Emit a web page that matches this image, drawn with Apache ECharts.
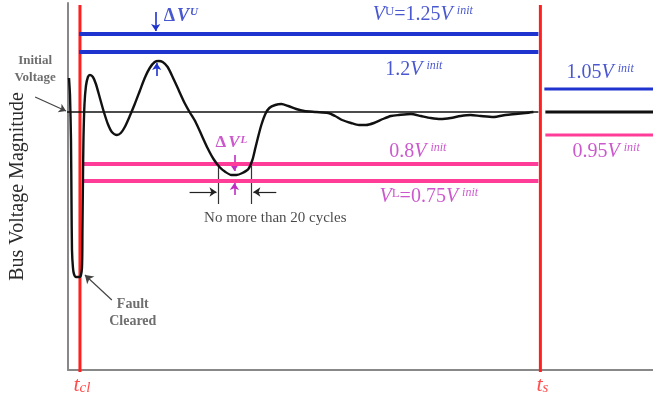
<!DOCTYPE html>
<html>
<head>
<meta charset="utf-8">
<script src="https://cdn.jsdelivr.net/npm/echarts@6/dist/echarts.min.js"></script>
<style>html,body{margin:0;padding:0;background:#fff}#c{width:653px;height:398px}</style>
</head>
<body>
<div id="c"></div>
<script>
// ---- data (diagram units: x = time, y = bus voltage magnitude) ----
const timeNames = ['cl', 's'];
const timeValues = [12, 474];

const upperLevelNames = ['1.25', '1.2'];
const upperLevelValues = [336, 318];
const initialLevel = 258;
const lowerLevelNames = ['0.8', '0.75'];
const lowerLevelValues = [206, 189];
const postLevelNames = ['1.05', '1', '0.95'];
const postLevelValues = [281, 258, 235];

const curveX = [1,2,3,3.5,4,5,6,8,12,14,14.5,15,15.5,16.5,18,20,22,25,28,32,36,40,44,49,53,57,62,67,72,77,82,87,91,95,100,105,111,117,122,128,134,140,146,152,158,164,169,175,181,185,188,191,194,198,202,208,214,221,229,237,249,261,268,275,284,292,299,307,316,324,332,344,354,364,374,384,394,404,414,427,439,449,459,467];
const curveY = [292,275,230,170,120,102,96,93,93,102,140,190,230,265,284,293,295,293,286,272,258,246,238,235,237,243,254,266,279,292,302,308,309,308,303,293,280,267,258,248,235,222,211,203,198,195,195,197,201,210,222,234,245,256,262,265,266,264,261,259,258,257,254,250,247,245,245,247,251,254,255,256,254,252,251,252,254,255,254,253,255,256,257,258];

const durationLimitCycles = 20;
const troughWindow = [151, 184];

// ---- styling ----
const SERIF = 'Liberation Serif';
const BLUE = '#1f33cf', BLUE_T = '#1c2dc4';
const PINK = '#ff3d98', MAG = '#bf2ec2';
const RED = '#ff1f1f';
const X_MAX = 587, Y_MAX = 367;

function levelSeries(y, x0, x1, color, width) {
  return { type: 'line', data: [[x0, y], [x1, y]], showSymbol: false, silent: true, clip: false,
    lineStyle: { color: color, width: width } };
}
function arrow(from, to, color, width, arrowSize, head) {
  return { type: 'lines', coordinateSystem: 'cartesian2d', clip: false, silent: true,
    symbol: head === false ? ['none', 'none'] : ['none', 'arrow'], symbolSize: arrowSize || 7,
    lineStyle: { color: color, width: width || 1.2, opacity: 1, curveness: 0 },
    data: [{ coords: [from, to] }] };
}
function richBase(color, size) {
  return {
    n: { fontFamily: SERIF, fontSize: size, color: color },
    v: { fontFamily: SERIF, fontSize: size, fontStyle: 'italic', color: color },
    supi: { fontFamily: SERIF, fontSize: Math.round(size * 0.6), fontStyle: 'italic', color: color, verticalAlign: 'top', padding: [0, 0, 0, 4] },
    supr: { fontFamily: SERIF, fontSize: Math.round(size * 0.65), color: color, verticalAlign: 'top' },
    sub: { fontFamily: SERIF, fontSize: Math.round(size * 0.7), fontStyle: 'italic', color: color, verticalAlign: 'bottom' }
  };
}
const notes = [];
function note(pos, text, rich, align) {
  notes.push({ value: pos, label: { show: true, position: 'inside', formatter: text, rich: rich, align: align || 'center', verticalAlign: 'middle' } });
}
function deltaRich(color, size) {
  return {
    d: { fontFamily: SERIF, fontSize: size, fontWeight: 'bold', color: color },
    vb: { fontFamily: SERIF, fontSize: size, fontWeight: 'bold', fontStyle: 'italic', color: color, padding: [0, 1, 0, 2] },
    sb: { fontFamily: SERIF, fontSize: Math.round(size * 0.62), fontWeight: 'bold', fontStyle: 'italic', color: color, verticalAlign: 'top' } };
}

const tcl = timeValues[0], ts = timeValues[1];
const series = [];

// red time marks
timeValues.forEach(t => series.push({ type: 'line', data: [[t, -2], [t, 365]], showSymbol: false, clip: false, silent: true, lineStyle: { color: RED, width: 3 } }));
// upper limits
upperLevelValues.forEach(v => series.push(levelSeries(v, tcl - 1, ts - 2, BLUE, 4)));
// lower limits
lowerLevelValues.forEach(v => series.push(levelSeries(v, tcl + 4, ts - 2, PINK, 4)));
// initial voltage
series.push(levelSeries(initialLevel, -4, ts - 2, '#111', 1.5));
// post-settling band
series.push(levelSeries(postLevelValues[0], ts + 4, X_MAX, BLUE, 3));
series.push(levelSeries(postLevelValues[1], ts + 5, X_MAX, '#111', 3));
series.push(levelSeries(postLevelValues[2], ts + 5, X_MAX, PINK, 3));
// voltage curve
series.push({ type: 'line', data: curveX.map((x, i) => [x, curveY[i]]), showSymbol: false, smooth: 0.25, clip: false, silent: true,
  lineStyle: { color: '#111', width: 2.4 } });

// annotation arrows
series.push(arrow([88, 358], [88, 339], BLUE, 1.6, 7));
series.push(arrow([89, 294], [89, 307], BLUE, 1.6, 7));
series.push(arrow([167, 215], [167, 199], MAG, 1.6, 7));
series.push(arrow([167, 175], [167, 187], MAG, 1.6, 7));
series.push(arrow([troughWindow[0] - 29, 178], [troughWindow[0] - 2, 178], '#222', 1.2, 7));
series.push(arrow([troughWindow[1] + 25, 178], [troughWindow[1] + 2, 178], '#222', 1.2, 7));
series.push(arrow([troughWindow[0], 206], [troughWindow[0], 166], '#333', 1.2, 7, false));
series.push(arrow([troughWindow[1], 206], [troughWindow[1], 166], '#333', 1.2, 7, false));
series.push(arrow([-33, 273], [-2, 259], '#444', 1.2, 7));
series.push(arrow([44, 70], [17, 95], '#444', 1.2, 8));

// text notes
const rb = richBase(BLUE_T, 20), rm = richBase(MAG, 20), rr = richBase(RED, 22);
note([356, 355], '{v|V}{supr|U}{n|=1.25}{v|V}{supi|init}', rb);
note([347, 300], '{n|1.2}{v|V}{supi|init}', rb);
note([534, 297], '{n|1.05}{v|V}{supi|init}', rb);
note([351, 218], '{n|0.8}{v|V}{supi|init}', rm);
note([362, 173], '{v|V}{supr|L}{n|=0.75}{v|V}{supi|init}', rm);
note([540, 218], '{n|0.95}{v|V}{supi|init}', rm);
note([96, 354], '{d|Δ}{vb|V}{sb|U}', deltaRich(BLUE_T, 18), 'left');
note([164, 227], '{d|Δ}{vb|V}{sb|L}', deltaRich(MAG, 17));
note([208, 152], '{a|No more than ' + durationLimitCycles + ' cycles}', { a: { fontFamily: SERIF, fontSize: 15, color: '#1a1a1a' } });
note([-33, 301], '{a|Initial}\n{a|Voltage}', { a: { fontFamily: SERIF, fontSize: 13, fontWeight: 'bold', color: '#4a4a4a', lineHeight: 17, align: 'center' } });
note([65, 57], '{a|Fault}\n{a|Cleared}', { a: { fontFamily: SERIF, fontSize: 14, fontWeight: 'bold', color: '#4a4a4a', lineHeight: 17, align: 'center' } });
timeValues.forEach((t, i) => note([t + 2, -15], '{v|t}{sub|' + timeNames[i] + '}', rr));

series.push({ type: 'scatter', data: notes, symbolSize: 0, clip: false, silent: true, z: 10 });

const chart = echarts.init(document.getElementById('c'), null, { renderer: 'canvas' });
chart.setOption({
  animation: false,
  backgroundColor: '#fff',
  grid: { left: 66, right: 0, top: 3, bottom: 28 },
  xAxis: { type: 'value', min: 0, max: X_MAX, axisLine: { show: true, lineStyle: { color: '#888', width: 2 } },
    axisTick: { show: false }, axisLabel: { show: false }, splitLine: { show: false } },
  yAxis: { type: 'value', min: 0, max: Y_MAX, name: 'Bus Voltage Magnitude', nameLocation: 'middle', nameGap: 40, nameRotate: 90,
    nameTextStyle: { fontFamily: SERIF, fontSize: 20, color: '#2a2a2a' },
    axisLine: { show: true, lineStyle: { color: '#888', width: 2 } },
    axisTick: { show: false }, axisLabel: { show: false }, splitLine: { show: false } },
  series: series
});
</script>
</body>
</html>
